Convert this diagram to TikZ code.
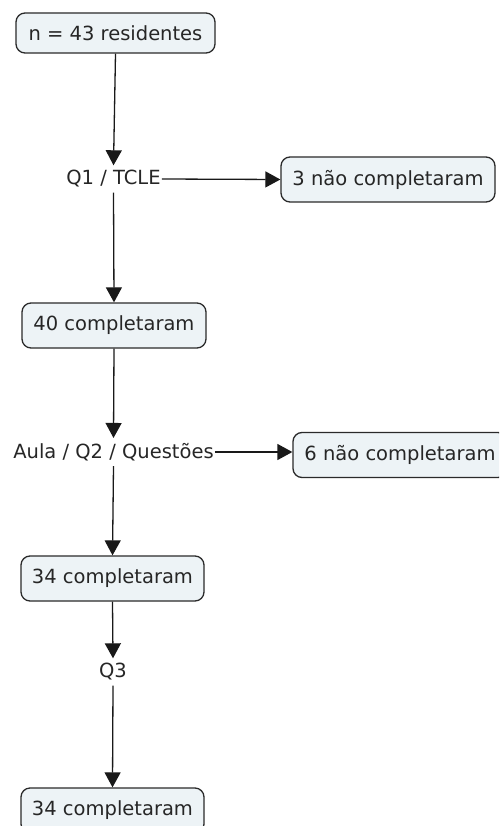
\documentclass[tikz,border=0pt]{standalone}
\usepackage{fontspec}
\setmainfont{DejaVu Sans}
\usetikzlibrary{arrows.meta}
\definecolor{boxfill}{HTML}{EDF3F6}
\definecolor{boxline}{HTML}{2A2A2A}
\begin{document}
\begin{tikzpicture}[x=1pt,y=-1pt,
  every node/.style={font=\fontsize{19.5}{21}\selectfont, text=black!85},
  flowbox/.style={draw=boxline, line width=1.3pt, fill=boxfill, rounded corners=9pt, inner sep=0pt, minimum height=45pt},
  lbl/.style={inner xsep=1pt, inner ysep=5pt},
  conn/.style={line width=1.3pt, draw=black!90, -{Triangle[width=16pt,length=15pt]}},
  plain/.style={line width=1.3pt, draw=black!90}]
\useasboundingbox (0,0) rectangle (499,826);
\clip (0,0) rectangle (499,826);
\node[flowbox, minimum width=199pt, minimum height=40pt] (n43) at (115.5,33) {n = 43 residentes};
\node[lbl] (q1) at (113.5,179) {Q1 / TCLE};
\node[flowbox, minimum width=214pt] (no3) at (388,179.5) {3 não completaram};
\node[flowbox, minimum width=184pt] (c40) at (114,325.5) {40 completaram};
\node[lbl] (q2) at (113.5,452) {Aula / Q2 / Questões};
\node[flowbox, minimum width=214pt] (no6) at (400,455) {6 não completaram};
\node[flowbox, minimum width=183pt] (c34a) at (112.5,578.5) {34 completaram};
\node[lbl] (q3) at (113,672) {Q3};
\node[flowbox, minimum width=183pt] (c34b) at (112.5,810.5) {34 completaram};
\draw[conn] (n43.south) -- (q1.north);
\draw[conn] (q1.east) -- (no3.west);
\draw[conn] (q1.south) -- (c40.north);
\draw[conn] (c40.south) -- (q2.north);
\draw[conn] (q2.east) -- (q2.east -| no6.west);
\draw[conn] (q2.south) -- (c34a.north);
\draw[conn] (c34a.south) -- (q3.north);
\draw[conn] (q3.south) -- (c34b.north);
\end{tikzpicture}
\end{document}
